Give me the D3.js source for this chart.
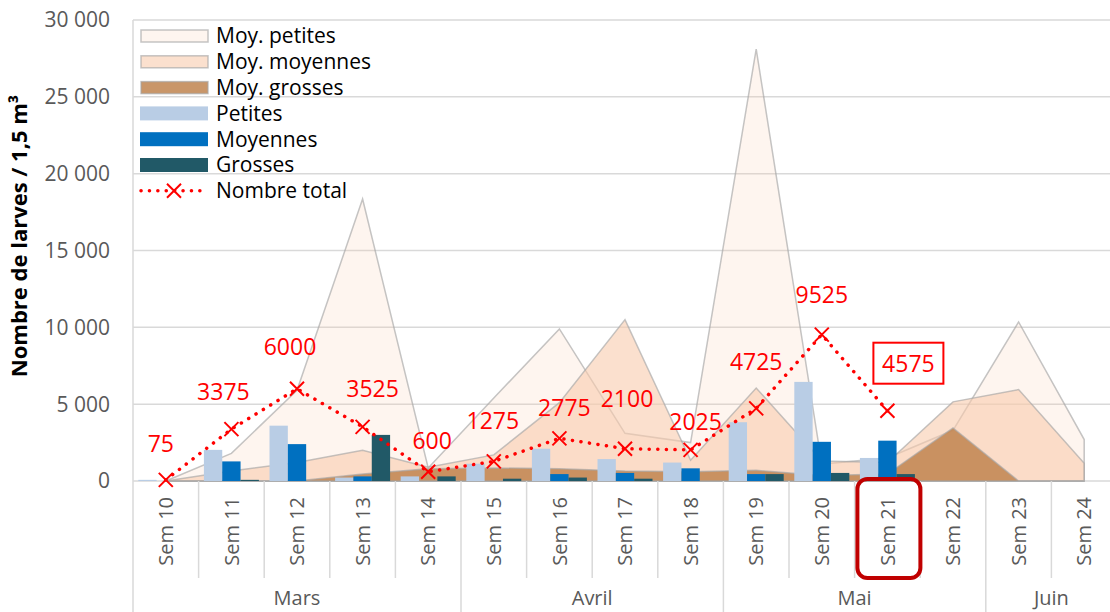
<!DOCTYPE html>
<html>
<head>
<meta charset="utf-8">
<script src="https://cdn.jsdelivr.net/npm/d3@7"></script>
<style>
  body { margin: 0; background: #fff; }
  svg { display: block; font-family: "Open Sans", sans-serif; }
</style>
</head>
<body>
<svg></svg>
<script>
//constants
const W = 1110, H = 612;
const plotLeft = 133, plotRight = 1117, plotTop = 20, plotBottom = 481;

//data
const weeks = ["Sem 10", "Sem 11", "Sem 12", "Sem 13", "Sem 14", "Sem 15", "Sem 16", "Sem 17",
  "Sem 18", "Sem 19", "Sem 20", "Sem 21", "Sem 22", "Sem 23", "Sem 24"];
const months = ["Mars", "Avril", "Mai", "Juin"];
const weeksPerMonth = [5, 4, 4, 2];

// averages (areas)
const moyPetites = [0, 1800, 5900, 18350, 850, 5400, 9900, 3100, 2500, 28100, 1100, 1500, 3300, 10350, 2700];
const moyMoyennes = [0, 650, 1200, 2000, 900, 1700, 5100, 10500, 1350, 6050, 1300, 1200, 5150, 5950, 1150];
const moyGrosses = [0, 0, 0, 450, 800, 850, 800, 650, 600, 700, 350, 450, 3450, 0, 0];

// this year (bars + total), Sem 10 .. Sem 21
const petites = [75, 2025, 3600, 225, 300, 1125, 2100, 1425, 1200, 3825, 6450, 1500];
const moyennes = [0, 1275, 2400, 300, 0, 0, 450, 525, 825, 450, 2550, 2625];
const grosses = [0, 75, 0, 3000, 300, 150, 225, 150, 0, 450, 525, 450];
const total = [75, 3375, 6000, 3525, 600, 1275, 2775, 2100, 2025, 4725, 9525, 4575];

const yTicks = [0, 5000, 10000, 15000, 20000, 25000, 30000];

// label nudges for the total values [dx, dy] from the marker
const labelOffsets = [[-5, -36], [-8, -37], [-7, -42], [10, -38], [4, -31], [-1, -40],
  [5, -30], [2, -50], [5, -28], [0, -46], [0, -40], [21, -47]];
const boxedWeek = "Sem 21";

function main() {
    let svg = d3.select("svg")
        .attr("width", W)
        .attr("height", H);

    //scales
    let xScale = d3.scaleBand()
        .domain(weeks)
        .range([plotLeft, plotRight]);
    const bw = xScale.bandwidth();
    const cx = d => xScale(d) + bw / 2;

    let yScale = d3.scaleLinear()
        .domain([0, 30000])
        .range([plotBottom, plotTop]);

    let groupW = 55;
    let subScale = d3.scaleBand()
        .domain(["petites", "moyennes", "grosses"])
        .range([(bw - groupW) / 2, (bw + groupW) / 2]);

    const fr = d3.formatLocale({decimal: ",", thousands: "\u00a0", grouping: [3], currency: ["", "€"]});
    const fmt = fr.format(",");

    //grid
    svg.append("g")
        .selectAll("line")
        .data(yTicks)
        .enter()
        .append("line")
        .attr("x1", plotLeft)
        .attr("x2", plotRight)
        .attr("y1", d => yScale(d))
        .attr("y2", d => yScale(d))
        .attr("stroke", "#d9d9d9")
        .attr("stroke-width", 1.5);

    //y tick labels
    svg.append("g")
        .selectAll("text")
        .data(yTicks)
        .enter()
        .append("text")
        .attr("x", 110)
        .attr("y", d => yScale(d))
        .attr("dy", "0.35em")
        .attr("text-anchor", "end")
        .style("font-size", "21px")
        .style("fill", "#595959")
        .text(d => fmt(d));

    //y axis title
    svg.append("text")
        .attr("transform", "translate(27,236) rotate(-90)")
        .attr("text-anchor", "middle")
        .style("font-size", "22px")
        .style("font-weight", "bold")
        .style("fill", "#000")
        .text("Nombre de larves / 1,5 m³");

    //areas
    const areaSeries = [
        {key: "Moy. petites", values: moyPetites, fill: "#f8cbad", op: 0.2},
        {key: "Moy. moyennes", values: moyMoyennes, fill: "#f8cbad", op: 0.6},
        {key: "Moy. grosses", values: moyGrosses, fill: "#c0844f", op: 0.85}
    ];

    let area = d3.area()
        .x((d, i) => cx(weeks[i]))
        .y0(yScale(0))
        .y1(d => yScale(d));

    svg.append("g")
        .selectAll("path")
        .data(areaSeries)
        .enter()
        .append("path")
        .attr("d", d => area(d.values))
        .attr("fill", d => d.fill)
        .attr("fill-opacity", d => d.op)
        .attr("stroke", "#a6a6a6")
        .attr("stroke-opacity", 0.65)
        .attr("stroke-width", 1.5);

    //bars
    const barSeries = [
        {key: "petites", name: "Petites", values: petites, color: "#b9cde5"},
        {key: "moyennes", name: "Moyennes", values: moyennes, color: "#0070c0"},
        {key: "grosses", name: "Grosses", values: grosses, color: "#215967"}
    ];

    barSeries.forEach(s => {
        svg.append("g")
            .selectAll("rect")
            .data(s.values)
            .enter()
            .append("rect")
            .attr("x", (d, i) => xScale(weeks[i]) + subScale(s.key))
            .attr("width", subScale.bandwidth())
            .attr("y", d => yScale(d))
            .attr("height", d => yScale(0) - yScale(d))
            .attr("fill", s.color);
    });

    //x axis: separators
    let bounds = [0];
    weeksPerMonth.forEach(n => bounds.push(bounds[bounds.length - 1] + n));

    svg.append("g")
        .selectAll("line")
        .data(d3.range(weeks.length + 1))
        .enter()
        .append("line")
        .attr("x1", i => plotLeft + i * bw)
        .attr("x2", i => plotLeft + i * bw)
        .attr("y1", plotBottom)
        .attr("y2", i => bounds.includes(i) ? H : 578)
        .attr("stroke", "#d9d9d9")
        .attr("stroke-width", 1.5);

    // y axis line
    svg.append("line")
        .attr("x1", plotLeft).attr("x2", plotLeft)
        .attr("y1", plotTop).attr("y2", plotBottom)
        .attr("stroke", "#d9d9d9")
        .attr("stroke-width", 1.5);

    //week labels
    svg.append("g")
        .selectAll("text")
        .data(weeks)
        .enter()
        .append("text")
        .attr("transform", d => "translate(" + cx(d) + ",497) rotate(-90)")
        .attr("dy", "0.36em")
        .attr("text-anchor", "end")
        .style("font-size", "20px")
        .style("fill", "#595959")
        .text(d => d);

    //month labels
    svg.append("g")
        .selectAll("text")
        .data(months)
        .enter()
        .append("text")
        .attr("x", (d, i) => plotLeft + (bounds[i] + bounds[i + 1]) / 2 * bw)
        .attr("y", 605)
        .attr("text-anchor", "middle")
        .style("font-size", "20px")
        .style("fill", "#595959")
        .text(d => d);

    //highlight Sem 21
    svg.append("rect")
        .attr("x", cx(boxedWeek) - 30)
        .attr("y", 479)
        .attr("width", 63)
        .attr("height", 99)
        .attr("rx", 10)
        .attr("fill", "none")
        .attr("stroke", "#c00000")
        .attr("stroke-width", 4);

    //total line
    let line = d3.line()
        .x((d, i) => cx(weeks[i]))
        .y(d => yScale(d));

    svg.append("path")
        .attr("d", line(total))
        .attr("fill", "none")
        .attr("stroke", "#ff0000")
        .attr("stroke-width", 3.5)
        .attr("stroke-linecap", "round")
        .attr("stroke-dasharray", "0.1 8.5");

    const xMark = (x, y, s) => "M" + (x - s) + "," + (y - s) + "L" + (x + s) + "," + (y + s) +
        "M" + (x - s) + "," + (y + s) + "L" + (x + s) + "," + (y - s);

    svg.append("g")
        .selectAll("path")
        .data(total)
        .enter()
        .append("path")
        .attr("d", (d, i) => xMark(cx(weeks[i]), yScale(d), 7))
        .attr("stroke", "#ff0000")
        .attr("stroke-width", 2);

    //total labels
    svg.append("g")
        .selectAll("text")
        .data(total)
        .enter()
        .append("text")
        .attr("x", (d, i) => cx(weeks[i]) + labelOffsets[i][0])
        .attr("y", (d, i) => yScale(d) + labelOffsets[i][1])
        .attr("dy", "0.35em")
        .attr("text-anchor", "middle")
        .style("font-size", "23px")
        .style("fill", "#ff0000")
        .text(d => d);

    // box around last value
    let last = total.length - 1;
    svg.append("rect")
        .attr("x", cx(weeks[last]) + labelOffsets[last][0] - 35)
        .attr("y", yScale(total[last]) + labelOffsets[last][1] - 21)
        .attr("width", 70)
        .attr("height", 41)
        .attr("fill", "none")
        .attr("stroke", "#ff0000")
        .attr("stroke-width", 2);

    //legend
    const legendItems = [
        {name: "Moy. petites", type: "area", s: areaSeries[0]},
        {name: "Moy. moyennes", type: "area", s: areaSeries[1]},
        {name: "Moy. grosses", type: "area", s: areaSeries[2]},
        {name: "Petites", type: "bar", s: barSeries[0]},
        {name: "Moyennes", type: "bar", s: barSeries[1]},
        {name: "Grosses", type: "bar", s: barSeries[2]},
        {name: "Nombre total", type: "line"}
    ];

    let legend = svg.append("g")
        .selectAll("g")
        .data(legendItems)
        .enter()
        .append("g")
        .attr("transform", (d, i) => "translate(140," + (36 + i * 25.8) + ")");

    legend.filter(d => d.type === "area")
        .append("rect")
        .attr("x", 1).attr("y", -6)
        .attr("width", 67).attr("height", 12)
        .attr("fill", d => d.s.fill)
        .attr("fill-opacity", d => d.s.op)
        .attr("stroke", "#a6a6a6")
        .attr("stroke-opacity", 0.65)
        .attr("stroke-width", 1.5);

    legend.filter(d => d.type === "bar")
        .append("rect")
        .attr("x", 0).attr("y", -7)
        .attr("width", 68).attr("height", 14)
        .attr("fill", d => d.s.color);

    let lg = legend.filter(d => d.type === "line");
    lg.append("line")
        .attr("x1", 1).attr("x2", 68)
        .attr("stroke", "#ff0000")
        .attr("stroke-width", 3.5)
        .attr("stroke-linecap", "round")
        .attr("stroke-dasharray", "0.1 8.3");
    lg.append("path")
        .attr("d", xMark(34, 0, 7))
        .attr("stroke", "#ff0000")
        .attr("stroke-width", 2);

    legend.append("text")
        .attr("x", 76)
        .attr("dy", "0.35em")
        .style("font-size", "21px")
        .style("fill", "#000")
        .text(d => d.name);
}

main();
</script>
</body>
</html>
